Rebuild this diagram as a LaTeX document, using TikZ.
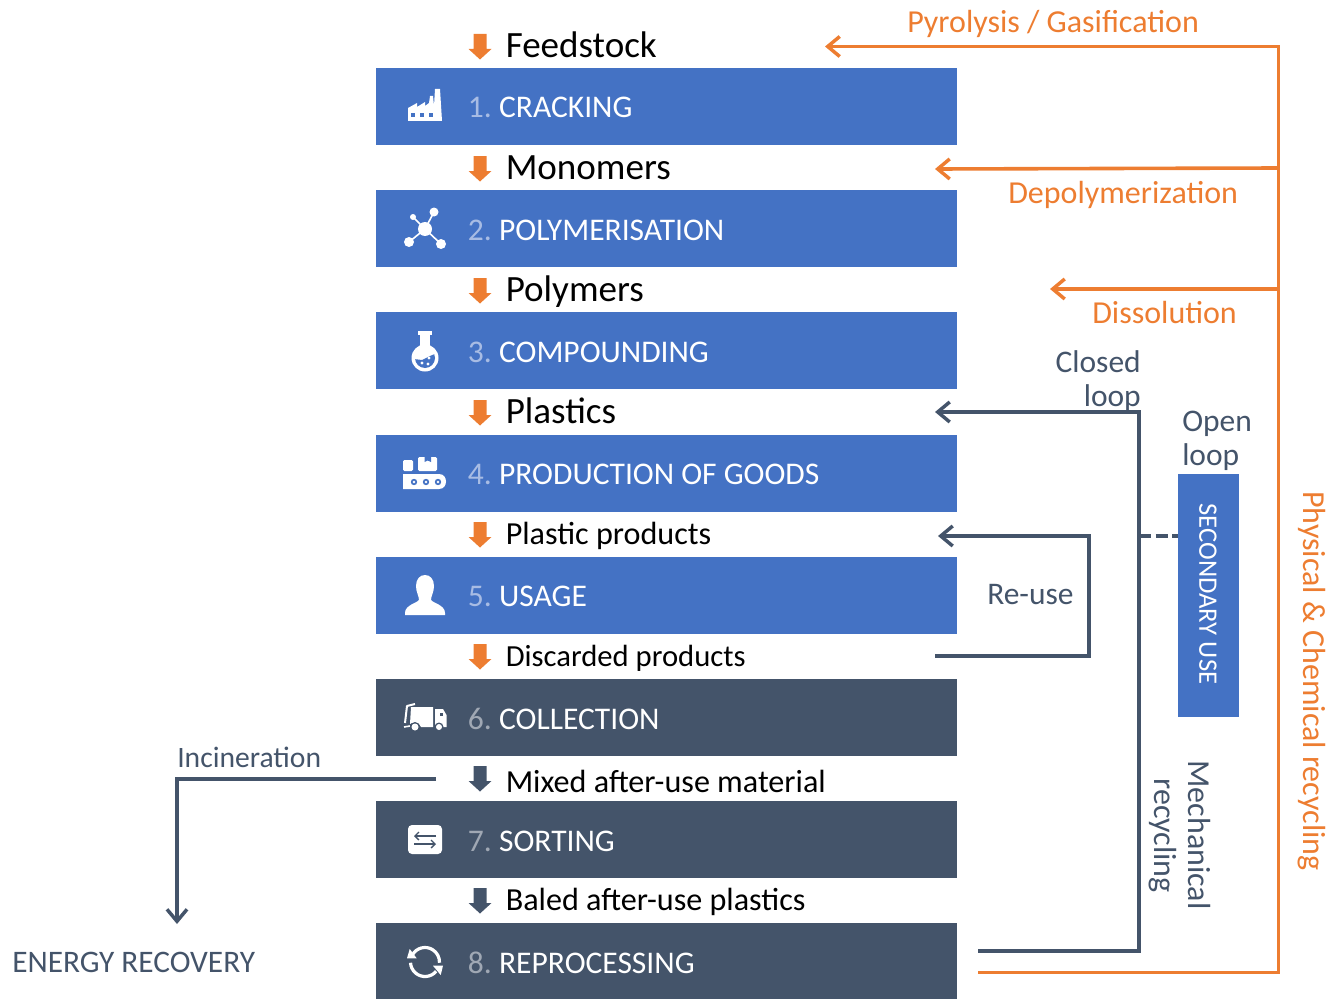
\documentclass[tikz,border=0pt]{standalone}
\usepackage{fontspec}
\setmainfont{Carlito}
\usetikzlibrary{arrows.meta,calc}
\definecolor{cblue}{HTML}{4472C4}
\definecolor{cdark}{HTML}{44546A}
\definecolor{corange}{HTML}{ED7D31}
\definecolor{numblue}{HTML}{A8BCE4}
\definecolor{numdark}{HTML}{A0A8B4}
\tikzset{
  band/.style={draw=none,inner sep=0pt,minimum width=435.75pt,minimum height=57.75pt},
  bandtxt/.style={anchor=base west,inner sep=0pt,text=white,font=\fontsize{23.65}{28}\selectfont},
  flow/.style={anchor=base west,inner sep=0pt,text=black},
  big/.style={font=\fontsize{27.8}{33}\selectfont},
  mid/.style={font=\fontsize{24.1}{28}\selectfont},
  lab/.style={inner sep=0pt,font=\fontsize{24}{26}\selectfont},
  labsm/.style={inner sep=0pt,font=\fontsize{23.6}{26}\selectfont},
  orangeline/.style={draw=corange,line width=2.7pt},
  darkline/.style={draw=cdark,line width=2.6pt},
  barb/.style={-{Straight Barb[length=9pt,width=15pt,line width=2.6pt]}},
}
\newcommand{\flowarrow}[3]{% x, top y, colour
  \fill[#3] (#1-6.5,#2) -- (#1+6.5,#2) -- (#1+6.5,#2+15) -- (#1+11.5,#2+15) -- (#1,#2+25.5) -- (#1-11.5,#2+15) -- (#1-6.5,#2+15) -- cycle;}
\newcommand{\bandlabel}[5]{% name, y, number colour, number, text
  \node[bandtxt] (#1) at (467.5,#2) {\hbox to 23.5pt{\textcolor{#3}{#4}\hss}#5};}
\begin{document}
\begin{tikzpicture}[x=0.75pt,y=-0.75pt]
\useasboundingbox (0,0) rectangle (1332,999);
% bands
\node[band,fill=cblue] (b1) at (666.5,106.5) {};
\node[band,fill=cblue] (b2) at (666.5,228.5) {};
\node[band,fill=cblue] (b3) at (666.5,350.5) {};
\node[band,fill=cblue] (b4) at (666.5,473.5) {};
\node[band,fill=cblue] (b5) at (666.5,595.5) {};
\node[band,fill=cdark] (b6) at (666.5,717.5) {};
\node[band,fill=cdark] (b7) at (666.5,839.5) {};
\node[band,fill=cdark] (b8) at (666.5,961) {};
\bandlabel{t1}{117.5}{numblue}{1.}{CRACKING}
\bandlabel{t2}{240}{numblue}{2.}{POLYMERISATION}
\bandlabel{t3}{362}{numblue}{3.}{COMPOUNDING}
\bandlabel{t4}{484}{numblue}{4.}{PRODUCTION OF GOODS}
\bandlabel{t5}{606}{numblue}{5.}{USAGE}
\bandlabel{t6}{729}{numdark}{6.}{COLLECTION}
\bandlabel{t7}{851}{numdark}{7.}{SORTING}
\bandlabel{t8}{973}{numdark}{8.}{REPROCESSING}
% flow labels and arrows
\flowarrow{480}{34}{corange}
\flowarrow{480}{156}{corange}
\flowarrow{480}{278}{corange}
\flowarrow{480}{400}{corange}
\flowarrow{480}{522}{corange}
\flowarrow{480}{644}{corange}
\flowarrow{480}{766}{cdark}
\flowarrow{480}{888}{cdark}
\node[flow,big] (f1) at (505.5,58) {Feedstock};
\node[flow,big] (f2) at (505.5,179) {Monomers};
\node[flow,big] (f3) at (505.5,301) {Polymers};
\node[flow,big] (f4) at (505.5,423) {Plastics};
\node[flow,mid] (f5) at (505.5,544.5) {Plastic products};
\node[flow,font=\fontsize{23}{28}\selectfont] (f6) at (505.5,666) {Discarded products};
\node[flow,mid] (f7) at (505.5,792) {Mixed after-use material};
\node[flow,mid] (f8) at (505.5,910.5) {Baled after-use plastics};
% secondary use
\node[draw=none,fill=cblue,inner sep=0pt,minimum width=45.75pt,minimum height=182.25pt] (sec) at (1208.5,595.5) {};
\node[inner sep=0pt,text=white,rotate=-90,font=\fontsize{20}{24}\selectfont] (sect) at (1208,594) {SECONDARY USE};
% connector ends
\coordinate (ofrom) at (978,972.5);
\coordinate (ocorner) at (1278.5,972.5);
\coordinate (otop) at (1278.5,46.5);
\coordinate (opyro) at (825,46.5);
\coordinate (odepolyA) at (1278.5,168);
\coordinate (odepolyB) at (935,169);
\coordinate (odissA) at (1278.5,289);
\coordinate (odissB) at (1050,289);
\coordinate (dfrom) at (978,951);
\coordinate (dcorner) at (1139,951);
\coordinate (dtop) at (1139,412);
\coordinate (dplastics) at (935,412);
\coordinate (rfrom) at (935,656);
\coordinate (rc1) at (1089,656);
\coordinate (rc2) at (1089,536);
\coordinate (rto) at (938,536);
\coordinate (dsh) at (1139,536);
\coordinate (ifrom) at (436,779);
\coordinate (ic) at (177,779);
\coordinate (ito) at (177,924);
% connectors
\draw[orangeline,barb] (ofrom) -- (ocorner) -- (otop) -- (opyro);
\draw[orangeline,barb] (odepolyA) -- (odepolyB);
\draw[orangeline,barb] (odissA) -- (odissB);
\draw[darkline,barb] (dfrom) -- (dcorner) -- (dtop) -- (dplastics);
\draw[darkline,barb] (rfrom) -- (rc1) -- (rc2) -- (rto);
\draw[darkline,dashed,dash pattern=on 9pt off 3.5pt] (dsh) -- (dsh -| sec.west);
\draw[darkline,barb] (ifrom) -- (ic) -- (ito);
% labels
\node[lab,text=corange,anchor=base west] (l1) at (907,33) {Pyrolysis / Gasification};
\node[lab,text=corange,anchor=base west] (l2) at (1008,203) {Depolymerization};
\node[lab,text=corange,anchor=base west] (l3) at (1092,323.5) {Dissolution};
\node[labsm,text=cdark,anchor=base east] (l4) at (1141,372) {Closed};
\node[labsm,text=cdark,anchor=base east] (l4b) at (1141,406) {loop};
\node[labsm,text=cdark,anchor=base west] (l5) at (1182,431) {Open};
\node[labsm,text=cdark,anchor=base west] (l5b) at (1182,465) {loop};
\node[labsm,text=cdark,anchor=base west] (l6) at (987,604) {Re-use};
\node[lab,text=cdark,anchor=base west,font=\fontsize{22.2}{26}\selectfont] (l7) at (177,767) {Incineration};
\node[lab,text=cdark,anchor=base west,font=\fontsize{23.5}{26}\selectfont] (l8) at (12,972) {ENERGY RECOVERY};
\node[lab,text=corange,rotate=-90] (l9) at (1312,681) {Physical \& Chemical recycling};
\node[lab,text=cdark,rotate=-90] (l10) at (1199.5,835) {Mechanical};
\node[lab,text=cdark,rotate=-90] (l11) at (1163,835.5) {recycling};
% --- icons ---
% factory
\fill[white] (408,121) -- (408,108) -- (417,103) -- (417,107) -- (425,102) -- (425,106) -- (429,103) -- (430,96) -- (433,96) -- (434,106) -- (435,89) -- (440,89) -- (442,121) -- cycle;
\foreach \x in {413,422,431} \fill[cblue] (\x-2,113.5) rectangle (\x+2,117.5);
% polymer
\draw[white,line width=1.2pt] (413,217) -- (425,229) (434,212) -- (425,229) (409,242) -- (425,229) (441,244) -- (425,229);
\fill[white] (425,229) circle[radius=7] (413,217) circle[radius=3] (434,212) circle[radius=4.5] (409,242) circle[radius=5] (441,244) circle[radius=5];
% flask
\fill[white] (418,331) rectangle (432,334.5);
\fill[white] (420,334) rectangle (430,350);
\fill[white] (425,358) circle[radius=13.5];
\begin{scope}
\clip (425,358) circle[radius=10];
\fill[cblue] (414,359) -- (422,360) -- (430,356) -- (437,353) -- (437,372) -- (414,372) -- cycle;
\end{scope}
\fill[white] (422,363) circle[radius=1.6] (429,358) circle[radius=1.6] (428,364) circle[radius=1.6];
% conveyor
\fill[white,rounded corners=1pt] (403,460) rectangle (413,471);
\fill[white,rounded corners=1pt] (418,457) rectangle (437,471);
\fill[cblue] (424.5,457) -- (431,457) -- (431,462) -- (427.7,460.5) -- (424.5,462) -- cycle;
\fill[white] (403,474) -- (439,474) .. controls (444,474) and (446,478) .. (446,481.5) .. controls (446,485) and (444,489) .. (439,489) -- (403,489) -- cycle;
\foreach \x in {414,426,438} {\fill[cblue] (\x,482) circle[radius=3.2]; \fill[white] (\x,482) circle[radius=1.4];}
% user
\fill[white] (416,586) .. controls (416,579) and (420,575) .. (425,575) .. controls (430,575) and (434,579) .. (434,586) .. controls (434,592) and (431,596) .. (431,600) .. controls (433,603) and (445,605) .. (445,613) -- (445,615) -- (405,615) -- (405,613) .. controls (405,605) and (417,603) .. (419,600) .. controls (419,596) and (416,592) .. (416,586) -- cycle;
% truck
\fill[white] (411,707) -- (433,707) -- (433,727) -- (421,727) .. controls (420,722) and (412,722) .. (410,724) -- cycle;
\draw[white,line width=1.5pt,line join=round] (405,723) -- (407,706) -- (415,704);
\draw[white,line width=1.2pt] (404,727) -- (410,726);
\fill[white] (435,709) -- (443,709) -- (446.5,715) -- (446.5,727) -- (435,727) -- cycle;
\fill[cdark] (439.5,713) rectangle (443,716);
\fill[cdark] (415,727) circle[radius=5] (439,727) circle[radius=4.5];
\fill[white] (415,727) circle[radius=3.5] (439,727) circle[radius=3];
% sorting
\fill[white,rounded corners=3pt] (408,825) rectangle (442,854);
\draw[cdark,line width=1pt,-{Straight Barb[length=3pt,width=6pt]}] (436,836) -- (414,836);
\draw[cdark,line width=1pt,-{Straight Barb[length=3pt,width=6pt]}] (414,844) -- (436,844);
% cycle
\draw[white,line width=2.4pt] (425,962) ++(210:14.5) arc (210:363:14.5);
\draw[white,line width=2.4pt] (425,962) ++(40:14.5) arc (40:177:14.5);
\fill[white] (409.7,949) -- (407,958.3) -- (416.7,958.3) -- cycle;
\fill[white] (433,965.7) -- (443,965.7) -- (440.7,975) -- cycle;
\end{tikzpicture}
\end{document}
